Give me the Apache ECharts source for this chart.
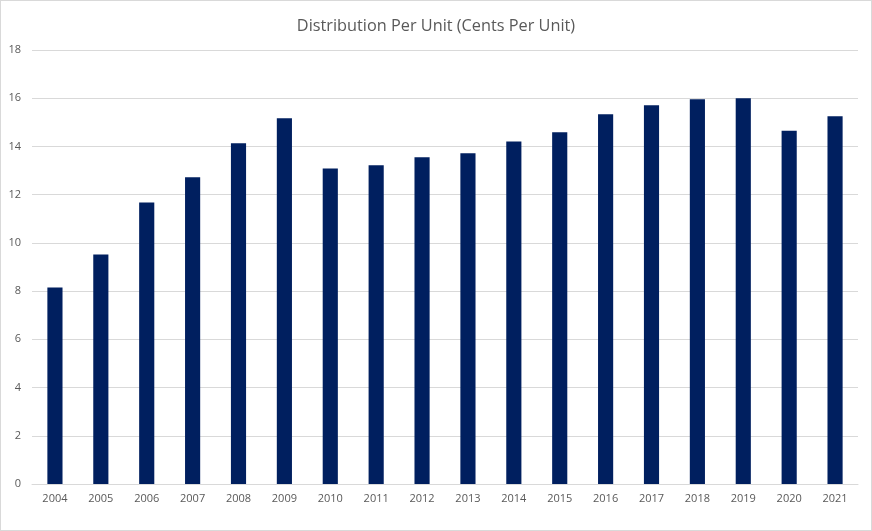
<!DOCTYPE html>
<html><head><meta charset="utf-8">
<script src="https://cdn.jsdelivr.net/npm/echarts@6/dist/echarts.min.js"></script>
<style>
html,body{margin:0;padding:0;background:#fff;}
#c{position:absolute;left:0;top:0;width:870px;height:529px;border:1px solid #d9d9d9;}
</style></head>
<body><div id="c"></div>
<script>
const categories = ['2004','2005','2006','2007','2008','2009','2010','2011','2012','2013','2014','2015','2016','2017','2018','2019','2020','2021'];
const values = [8.15,9.52,11.68,12.72,14.13,15.17,13.09,13.22,13.55,13.72,14.21,14.59,15.34,15.71,15.96,16.0,14.65,15.25];
const yTicks = [0,2,4,6,8,10,12,14,16,18];
const chart = echarts.init(document.getElementById('c'), null, {renderer:'canvas'});
const font = "'Open Sans', 'Liberation Sans', sans-serif";
chart.setOption({
  animation:false,
  title:{text:'Distribution Per Unit (Cents Per Unit)', left:'center', top:12,
    textStyle:{color:'#595959', fontSize:16.3, fontWeight:'normal', fontFamily:font}},
  grid:{left:31, right:13, top:49, bottom:46, containLabel:false, outerBoundsMode:'none'},
  xAxis:{type:'category', data:categories,
    axisLine:{lineStyle:{color:'#d9d9d9'}}, axisTick:{show:false},
    axisLabel:{color:'#595959', fontSize:11, fontFamily:font, margin:9}},
  yAxis:{type:'value', min:yTicks[0], max:yTicks[yTicks.length-1], interval:2,
    axisLine:{show:false}, axisTick:{show:false},
    splitLine:{lineStyle:{color:'#d9d9d9'}},
    axisLabel:{color:'#595959', fontSize:11, fontFamily:font, margin:11}},
  series:[{type:'bar', data:values, barWidth:'33%', itemStyle:{color:'#001f5f'}}]
});
</script></body></html>
